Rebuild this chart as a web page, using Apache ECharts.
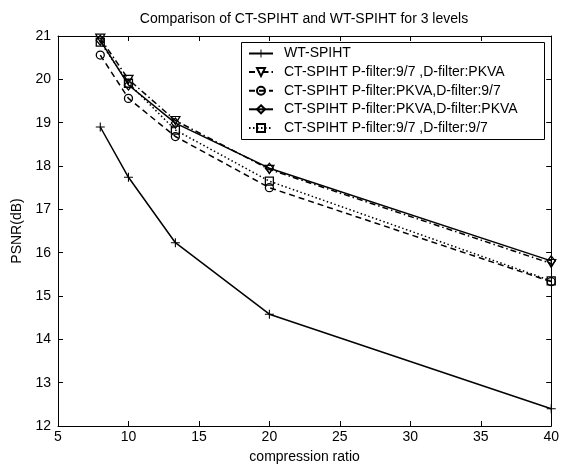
<!DOCTYPE html>
<html>
<head>
<meta charset="utf-8">
<script src="https://cdn.jsdelivr.net/npm/echarts@6/dist/echarts.min.js"></script>
<style>
  html, body { margin: 0; padding: 0; background: #fff; }
  #chart { width: 562px; height: 469px; }
</style>
</head>
<body>
<div id="chart"></div>
<script>
const ratios = [8, 10, 13.33, 20, 40];
const wtSpiht = [18.9, 17.74, 16.23, 14.58, 12.4];
const ct97Pkva = [20.95, 20.0, 19.05, 17.92, 15.75];
const ctPkva97 = [20.56, 19.56, 18.68, 17.5, 15.33];
const ctPkvaPkva = [20.9, 19.87, 18.99, 17.95, 15.81];
const ct9797 = [20.86, 19.91, 18.83, 17.65, 15.35];
const xTicks = [5, 10, 15, 20, 25, 30, 35, 40];
const yTicks = [12, 13, 14, 15, 16, 17, 18, 19, 20, 21];

const names = [
  "WT-SPIHT",
  "CT-SPIHT P-filter:9/7 ,D-filter:PKVA",
  "CT-SPIHT P-filter:PKVA,D-filter:9/7",
  "CT-SPIHT P-filter:PKVA,D-filter:PKVA",
  "CT-SPIHT P-filter:9/7 ,D-filter:9/7",
];

const plus = "path://M4.4,0H5.6V4.4H10V5.6H5.6V10H4.4V5.6H0V4.4H4.4Z";
const triDown = "path://M0,0L10,0L5,9Z";

const font = "Liberation Sans, Arial, sans-serif";
const pair = (ys) => ratios.map((x, i) => [x, ys[i]]);

const chart = echarts.init(document.getElementById("chart"));

const axisCommon = {
  axisLine: { show: true, lineStyle: { color: "#000", width: 1 } },
  axisTick: { inside: true, length: 5, lineStyle: { color: "#000" } },
  splitLine: { show: false },
};

chart.setOption({
  animation: false,
  backgroundColor: "#fff",
  textStyle: { fontFamily: font, color: "#000" },
  title: {
    text: "Comparison of CT-SPIHT and WT-SPIHT for 3 levels",
    left: 304,
    top: 12,
    textAlign: "center",
    padding: 0,
    textStyle: { fontFamily: font, fontSize: 14, fontWeight: "normal", color: "#000" },
  },
  grid: { left: 58, right: 8, top: 36, bottom: 42 },
  xAxis: [
    {
      ...axisCommon,
      type: "value",
      min: 5,
      max: 40,
      interval: 5,
      name: "compression ratio",
      nameLocation: "middle",
      nameGap: 24,
      nameTextStyle: { fontFamily: font, fontSize: 14, color: "#000" },
      axisLabel: {
        fontFamily: font, fontSize: 14, color: "#000", margin: 4,
        customValues: xTicks, formatter: (v) => String(v),
      },
      axisTick: { ...axisCommon.axisTick, customValues: xTicks },
    },
    {
      ...axisCommon,
      type: "value",
      position: "top",
      min: 5,
      max: 40,
      interval: 5,
      axisLabel: { show: false },
    },
  ],
  yAxis: [
    {
      ...axisCommon,
      type: "value",
      min: 12,
      max: 21,
      interval: 1,
      name: "PSNR(dB)",
      nameLocation: "middle",
      nameGap: 31,
      nameTextStyle: { fontFamily: font, fontSize: 14, color: "#000" },
      axisLabel: {
        fontFamily: font, fontSize: 14, color: "#000", margin: 7,
        customValues: yTicks, formatter: (v) => String(v),
      },
      axisTick: { ...axisCommon.axisTick, customValues: yTicks },
    },
    {
      ...axisCommon,
      type: "value",
      position: "right",
      min: 12,
      max: 21,
      interval: 1,
      axisLabel: { show: false },
    },
  ],
  legend: {
    orient: "vertical",
    left: 248,
    top: 46,
    itemWidth: 24,
    itemHeight: 10,
    itemGap: 3.6,
    padding: 0,
    data: names,
    textStyle: { fontFamily: font, fontSize: 14, color: "#000", padding: [0, 0, 0, 6], lineHeight: 15 },
  },
  graphic: [
    {
      type: "rect",
      shape: { x: 241.5, y: 42.5, width: 303, height: 97 },
      style: { fill: "#fff", stroke: "#000", lineWidth: 1 },
      z: 0,
      zlevel: 0,
    },
  ],
  series: [
    { name: names[0], data: pair(wtSpiht), symbol: plus, symbolSize: 9, lineType: "solid", fillMark: "#000" },
    { name: names[1], data: pair(ct97Pkva), symbol: triDown, symbolSize: [9, 8], lineType: [6, 3, 1.5, 3] },
    { name: names[2], data: pair(ctPkva97), symbol: "circle", symbolSize: 8, lineType: [6, 4] },
    { name: names[3], data: pair(ctPkvaPkva), symbol: "diamond", symbolSize: [8, 10], lineType: "solid" },
    { name: names[4], data: pair(ct9797), symbol: "rect", symbolSize: 8, lineType: [1.5, 2.5] },
  ].map((s) => ({
    name: s.name,
    type: "line",
    data: s.data,
    symbol: s.symbol,
    symbolSize: s.symbolSize,
    showAllSymbol: true,
    clip: false,
    z: 3,
    lineStyle: { color: "#000", width: 1.5, type: s.lineType },
    itemStyle: s.fillMark
      ? { color: s.fillMark, borderWidth: 0 }
      : { color: "rgba(255,255,255,0)", borderColor: "#000", borderWidth: 1.3 },
    emphasis: { disabled: true },
  })),
});
</script>
</body>
</html>
